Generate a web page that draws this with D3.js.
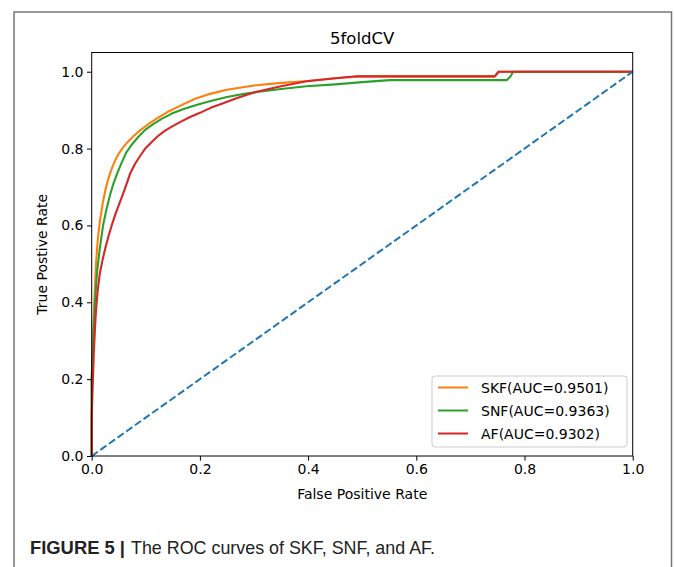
<!DOCTYPE html>
<html>
<head>
<meta charset="utf-8">
<script src="https://cdn.jsdelivr.net/npm/d3@7"></script>
<style>
body { margin: 0; background: #fff; }
svg { display: block; }
.tick text { font-family: "DejaVu Sans", sans-serif; font-size: 14px; fill: #000; }
</style>
</head>
<body>
<svg width="674" height="567"></svg>
<script>
var skfFpr = [0, 0, 0.002, 0.004, 0.006, 0.008, 0.011, 0.015, 0.02, 0.025, 0.03, 0.036, 0.043, 0.05, 0.058, 0.067, 0.077, 0.09, 0.105, 0.12, 0.14, 0.166, 0.19, 0.215, 0.25, 0.3, 0.35, 0.4, 0.45, 0.5, 0.6, 0.7, 0.745, 0.752, 0.8, 0.9, 1.0];
var skfTpr = [0, 0.2, 0.3, 0.37, 0.44, 0.5, 0.56, 0.61, 0.655, 0.69, 0.718, 0.744, 0.768, 0.787, 0.803, 0.818, 0.832, 0.848, 0.864, 0.878, 0.895, 0.913, 0.929, 0.941, 0.953, 0.964, 0.971, 0.976, 0.983, 0.988, 0.988, 0.988, 0.988, 1.0, 1.0, 1.0, 1.0];

var snfFpr = [0, 0, 0.003, 0.006, 0.01, 0.015, 0.021, 0.027, 0.034, 0.04, 0.047, 0.055, 0.064, 0.074, 0.086, 0.1, 0.115, 0.13, 0.148, 0.17, 0.195, 0.22, 0.25, 0.28, 0.305, 0.35, 0.397, 0.45, 0.5, 0.551, 0.65, 0.767, 0.772, 0.775, 0.779, 0.85, 1.0];
var snfTpr = [0, 0.2, 0.3, 0.4, 0.48, 0.54, 0.6, 0.64, 0.68, 0.708, 0.735, 0.762, 0.79, 0.81, 0.83, 0.85, 0.865, 0.878, 0.891, 0.903, 0.914, 0.924, 0.934, 0.942, 0.947, 0.955, 0.962, 0.967, 0.973, 0.978, 0.978, 0.978, 0.985, 0.99, 1.0, 1.0, 1.0];

var afFpr = [0, 0, 0.002, 0.004, 0.006, 0.008, 0.011, 0.015, 0.02, 0.025, 0.031, 0.037, 0.044, 0.052, 0.06, 0.065, 0.071, 0.08, 0.09, 0.099, 0.11, 0.122, 0.135, 0.148, 0.165, 0.182, 0.2, 0.22, 0.243, 0.27, 0.305, 0.35, 0.397, 0.45, 0.49, 0.551, 0.65, 0.745, 0.752, 0.85, 1.0];
var afTpr = [0, 0.1, 0.19, 0.27, 0.33, 0.38, 0.43, 0.475, 0.51, 0.54, 0.572, 0.6, 0.63, 0.66, 0.69, 0.71, 0.735, 0.76, 0.782, 0.8, 0.816, 0.832, 0.846, 0.857, 0.87, 0.882, 0.893, 0.906, 0.918, 0.932, 0.948, 0.962, 0.975, 0.983, 0.988, 0.988, 0.988, 0.988, 1.0, 1.0, 1.0];

var chanceLine = [0, 1];

var seriesNames = ["SKF(AUC=0.9501)", "SNF(AUC=0.9363)", "AF(AUC=0.9302)"];
var seriesColors = ["#ff7f0e", "#2ca02c", "#d62728"];
var tickValues = [0, 0.2, 0.4, 0.6, 0.8, 1.0];

var svg = d3.select("svg");
var axLeft = 91.7, axRight = 632.7, axTop = 52.5, axBottom = 456;

var x = d3.scaleLinear().domain([0, 1]).range([axLeft, axRight]);
var y = d3.scaleLinear().domain([0, 1.05]).range([axBottom, axTop]);

// outer figure frame
svg.append("rect")
	.attr("x", 14).attr("y", 12)
	.attr("width", 657.5).attr("height", 580)
	.attr("fill", "none")
	.attr("stroke", "#777")
	.attr("stroke-width", 1.5);

function pairs(xs, ys) {
	return xs.map(function(v, i) { return [v, ys[i]]; });
}

var line = d3.line()
	.x(function(d) { return x(d[0]); })
	.y(function(d) { return y(d[1]); });

var curves = [pairs(skfFpr, skfTpr), pairs(snfFpr, snfTpr), pairs(afFpr, afTpr)];

var plot = svg.append("g");
curves.forEach(function(c, i) {
	plot.append("path")
		.attr("d", line(c))
		.attr("fill", "none")
		.attr("stroke", seriesColors[i])
		.attr("stroke-width", 2.1)
		.attr("stroke-linejoin", "round");
});

plot.append("path")
	.attr("d", line(pairs(chanceLine, chanceLine)))
	.attr("fill", "none")
	.attr("stroke", "#1f77b4")
	.attr("stroke-width", 2)
	.attr("stroke-dasharray", "7.4,3.2");

// axes
var fmt = d3.format(".1f");
svg.append("g")
	.attr("transform", "translate(0," + axBottom + ")")
	.call(d3.axisBottom(x).tickValues(tickValues).tickFormat(fmt).tickSize(4.7).tickPadding(3.5))
	.call(function(g) { g.select(".domain").remove(); });

svg.append("g")
	.attr("transform", "translate(" + axLeft + ",0)")
	.call(d3.axisLeft(y).tickValues(tickValues).tickFormat(fmt).tickSize(4.7).tickPadding(3.5))
	.call(function(g) { g.select(".domain").remove(); });

svg.selectAll(".tick line").attr("stroke", "#000").attr("stroke-width", 1);

svg.append("rect")
	.attr("x", axLeft).attr("y", axTop)
	.attr("width", axRight - axLeft).attr("height", axBottom - axTop)
	.attr("fill", "none")
	.attr("stroke", "#000")
	.attr("stroke-width", 1);

// titles
svg.append("text")
	.attr("x", (axLeft + axRight) / 2).attr("y", 44)
	.attr("text-anchor", "middle")
	.style("font-family", "DejaVu Sans, sans-serif")
	.style("font-size", "16.5px")
	.text("5foldCV");

svg.append("text")
	.attr("x", (axLeft + axRight) / 2).attr("y", 499)
	.attr("text-anchor", "middle")
	.style("font-family", "DejaVu Sans, sans-serif")
	.style("font-size", "14px")
	.text("False Positive Rate");

svg.append("text")
	.attr("transform", "translate(47," + (axTop + axBottom) / 2 + ") rotate(-90)")
	.attr("text-anchor", "middle")
	.style("font-family", "DejaVu Sans, sans-serif")
	.style("font-size", "14px")
	.text("True Postive Rate");

// legend
var legend = svg.append("g").attr("transform", "translate(432,376)");
legend.append("rect")
	.attr("width", 195).attr("height", 71)
	.attr("rx", 3)
	.attr("fill", "#fff").attr("fill-opacity", 0.8)
	.attr("stroke", "#ccc");

seriesNames.forEach(function(name, i) {
	var ly = 11.5 + i * 23;
	legend.append("line")
		.attr("x1", 6).attr("x2", 36)
		.attr("y1", ly).attr("y2", ly)
		.attr("stroke", seriesColors[i])
		.attr("stroke-width", 2);
	legend.append("text")
		.attr("x", 49).attr("y", ly + 5)
		.style("font-family", "DejaVu Sans, sans-serif")
		.style("font-size", "14px")
		.text(name);
});

// caption
svg.append("text")
	.attr("x", 30).attr("y", 554)
	.attr("textLength", 95).attr("lengthAdjust", "spacingAndGlyphs")
	.style("font-family", "Liberation Sans, Arial, sans-serif")
	.style("font-size", "18px")
	.style("font-weight", "bold")
	.attr("fill", "#222")
	.text("FIGURE 5 |");
svg.append("text")
	.attr("x", 131).attr("y", 554)
	.attr("textLength", 304).attr("lengthAdjust", "spacingAndGlyphs")
	.style("font-family", "Liberation Sans, Arial, sans-serif")
	.style("font-size", "18.5px")
	.attr("fill", "#222")
	.text("The ROC curves of SKF, SNF, and AF.");
</script>
</body>
</html>
